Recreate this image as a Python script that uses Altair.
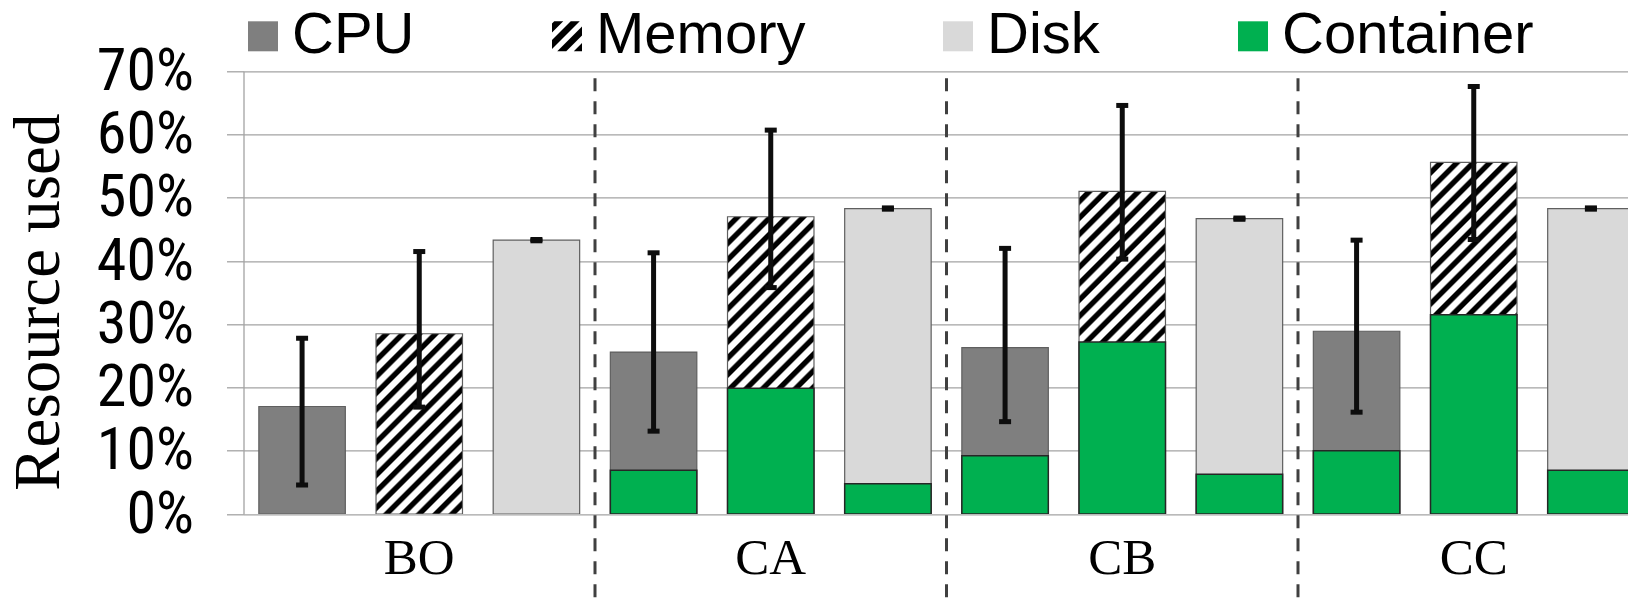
import altair as alt
import pandas as pd

# ---- data (percent of resource used) ----
groups = ["BO", "CA", "CB", "CC"]
resources = ["CPU", "Memory", "Disk"]

cpu_total = [17.0, 25.6, 26.3, 28.9]
mem_total = [28.5, 47.0, 51.0, 55.6]
disk_total = [43.3, 48.3, 46.7, 48.3]

cpu_container = [0.0, 6.9, 9.2, 10.0]
mem_container = [0.0, 19.9, 27.2, 31.5]
disk_container = [0.0, 4.8, 6.3, 6.9]

cpu_err_low = [4.6, 13.1, 14.6, 16.1]
cpu_err_high = [27.8, 41.3, 42.0, 43.3]
mem_err_low = [16.9, 35.8, 40.3, 43.4]
mem_err_high = [41.5, 60.7, 64.6, 67.6]
disk_err_low = [43.2, 48.2, 46.6, 48.2]
disk_err_high = [43.4, 48.4, 46.8, 48.4]

y_ticks = [0, 10, 20, 30, 40, 50, 60, 70]

# ---- layout ----
PLOT_LEFT, PLOT_TOP = 243.5, 71.3
PLOT_W, PLOT_H = 1628 - PLOT_LEFT, 442.7
X_RANGE = 1406.0            # four category bands; the last one runs past the right edge
PAD_INNER, PAD_OUTER = 0.262, 0.131
BAR_W = X_RANGE / 4 / (3 - PAD_INNER + 2 * PAD_OUTER) * (1 - PAD_INNER)
STRIPE = 16.4               # vertical period of the memory hatch, px

SANS = ("Noto Sans ExtraCondensed, Noto Sans Condensed, Roboto Condensed, "
        "Liberation Sans Narrow, DejaVu Sans Condensed, sans-serif")
LEGEND_FONT = "Liberation Sans, Arial, sans-serif"
SERIF = "Liberation Serif, Times New Roman, serif"
GRID = "#a3a3a3"

rows = []
tables = {
    "CPU": (cpu_total, cpu_container, cpu_err_low, cpu_err_high),
    "Memory": (mem_total, mem_container, mem_err_low, mem_err_high),
    "Disk": (disk_total, disk_container, disk_err_low, disk_err_high),
}
for gi, g in enumerate(groups):
    for r in resources:
        tot, cont, lo, hi = tables[r]
        rows.append(dict(group=g, resource=r, total=tot[gi], container=cont[gi],
                         err_lo=lo[gi], err_hi=hi[gi]))
df = pd.DataFrame(rows)


def hatch_gradient(w, h):
    """Diagonal black/white stripes ('/') as a bounding-box linear gradient."""
    s = (w + h) / (w * w + h * h)
    n = (w + h) / STRIPE
    white, black = "#ffffff", "#000000"
    phases = [(0.0, white), (0.34, white), (0.46, black), (0.80, black), (0.92, white)]
    stops = []
    k = 0
    while k <= n + 1:
        for ph, col in phases:
            t = (k + ph) / n
            if 0 <= t <= 1:
                stops.append({"offset": round(t, 5), "color": col})
        k += 1
    stops.append({"offset": 1, "color": stops[-1]["color"]})
    return {"gradient": "linear", "x1": 0, "y1": 0,
            "x2": round(s * w, 5), "y2": round(s * h, 5), "stops": stops}


def clip_band(a, b):
    """Polygon of the unit square [-1,1]^2 where a <= x + y <= b."""
    poly = [(-1, -1), (1, -1), (1, 1), (-1, 1)]

    def clip(pts, f):
        out = []
        for i in range(len(pts)):
            p, q = pts[i], pts[(i + 1) % len(pts)]
            fp, fq = f(p), f(q)
            if fp >= 0:
                out.append(p)
            if (fp >= 0) != (fq >= 0):
                t = fp / (fp - fq)
                out.append((p[0] + t * (q[0] - p[0]), p[1] + t * (q[1] - p[1])))
        return out

    poly = clip(poly, lambda p: p[0] + p[1] - a)
    poly = clip(poly, lambda p: b - p[0] - p[1])
    return "M" + "L".join(f"{x:.3f},{y:.3f}" for x, y in poly) + "Z"


hatch_path = "".join(clip_band(c - 0.3, c + 0.3) for c in (-1.55, -0.45, 0.65, 1.75))

mem_grads = [
    {"test": f"datum.series === 'Memory' && datum.group === '{g}'",
     "value": hatch_gradient(BAR_W, t / 70 * PLOT_H)}
    for g, t in zip(groups, mem_total)
]

series_domain = ["CPU", "Memory", "Disk", "Container"]
series_range = ["#7f7f7f", "#000000", "#d9d9d9", "#00b050"]
series_shapes = ["square", hatch_path, "square", "square"]

legend = alt.Legend(
    title=None, orient="top", direction="horizontal", offset=6, padding=0,
    symbolSize=900, symbolOffset=-9.5, symbolStrokeWidth=0,
    labelFont=LEGEND_FONT, labelFontSize=58, labelColor="#000000",
    labelOffset=0, labelLimit=600, columnPadding=133,
)

fill_scale = alt.Scale(domain=series_domain, range=series_range)
fill = alt.Fill("series:N", scale=fill_scale, legend=legend, condition=mem_grads)

x_scale = alt.Scale(domain=groups, range=[0, X_RANGE], paddingInner=0, paddingOuter=0)
x_axis = alt.Axis(title=None, labelAngle=0, domain=False, ticks=False, grid=False,
                  labelFont=SERIF, labelFontSize=51, labelColor="#000000", labelPadding=19)
x = alt.X("group:N", scale=x_scale, axis=x_axis)
x_off = alt.XOffset("resource:N", sort=resources,
                    scale=alt.Scale(domain=resources, paddingInner=PAD_INNER, paddingOuter=PAD_OUTER))

y_scale = alt.Scale(domain=[0, 70], nice=False, zero=True)
y_axis = alt.Axis(
    title="Resource used", values=y_ticks, labelExpr="datum.value + '%'",
    labelFont=SANS, labelFontSize=60, labelColor="#000000", labelPadding=33,
    tickSize=17, tickColor=GRID, tickWidth=1.3,
    domainColor=GRID, domainWidth=1.3, gridColor=GRID, gridWidth=1.3,
    titleFont=SERIF, titleFontSize=65, titleFontWeight="normal", titleColor="#000000",
    titlePadding=24, titleY=PLOT_H / 2 + 9,
)

base = alt.Chart(df)

bars = base.mark_bar(stroke="#5f5f5f", strokeWidth=1.2, clip=True).transform_calculate(
    series="datum.resource"
).encode(
    x=x, xOffset=x_off,
    y=alt.Y("total:Q", scale=y_scale, axis=y_axis),
    fill=fill,
)

container_bars = base.mark_bar(stroke="#262626", strokeWidth=1.5, clip=True).transform_filter(
    "datum.container > 0"
).transform_calculate(
    series="'Container'"
).encode(
    x=x, xOffset=x_off,
    y=alt.Y("container:Q", scale=y_scale, axis=y_axis),
    fill=fill,
)

# legend glyphs only: an empty point layer carrying the shape scale (hatched memory swatch)
legend_glyphs = base.mark_point(filled=True, opacity=1).transform_filter("false").transform_calculate(
    series="datum.resource"
).encode(
    fill=alt.Fill("series:N", scale=fill_scale, legend=legend),
    shape=alt.Shape("series:N", scale=alt.Scale(domain=series_domain, range=series_shapes), legend=legend),
)

ERR = "#0d0d0d"
err_rule = base.mark_rule(color=ERR, strokeWidth=5).encode(
    x=x, xOffset=x_off,
    y=alt.Y("err_lo:Q", scale=y_scale, axis=y_axis),
    y2="err_hi:Q",
)
cap_lo = base.mark_tick(color=ERR, thickness=5, size=12, opacity=1).encode(
    x=x, xOffset=x_off, y=alt.Y("err_lo:Q", scale=y_scale, axis=y_axis),
)
cap_hi = base.mark_tick(color=ERR, thickness=5, size=12, opacity=1).encode(
    x=x, xOffset=x_off, y=alt.Y("err_hi:Q", scale=y_scale, axis=y_axis),
)

separators = alt.Chart(pd.DataFrame({"group": groups[1:]})).mark_rule(
    color="#404040", strokeWidth=3, strokeDash=[13, 10]
).encode(
    x=alt.X("group:N", scale=x_scale, axis=x_axis, bandPosition=0),
    y=alt.value(7),
    y2=alt.value(604 - PLOT_TOP),
)

chart = alt.layer(
    bars, container_bars, legend_glyphs, err_rule, cap_lo, cap_hi, separators
).properties(
    width=PLOT_W, height=PLOT_H,
    autosize=alt.AutoSizeParams(type="none"),
    padding={"left": PLOT_LEFT, "top": PLOT_TOP, "right": 0, "bottom": 604 - PLOT_TOP - PLOT_H},
    background="#ffffff",
).configure_view(stroke="transparent")

chart.save("out.html", embed_options={"renderer": "svg", "actions": False})
